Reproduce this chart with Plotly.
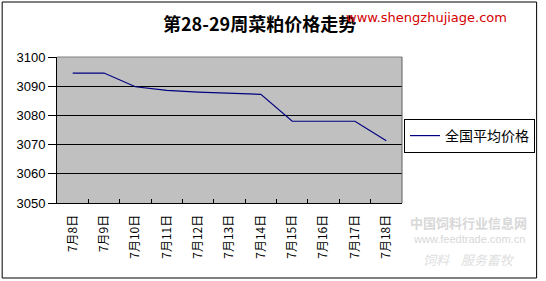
import plotly.graph_objects as go

categories = ["7月8日", "7月9日", "7月10日", "7月11日", "7月12日", "7月13日",
              "7月14日", "7月15日", "7月16日", "7月17日", "7月18日"]
prices = [3094.5, 3094.5, 3089.8, 3088.6, 3088.0, 3087.6, 3087.2, 3078.0, 3078.0, 3078.0, 3071.3]
series_name = "全国平均价格"
title_text = "第28-29周菜粕价格走势"
y_ticks = [3050, 3060, 3070, 3080, 3090, 3100]

W, H = 546, 281
L, R, T, B = 57, 403, 57, 203
pw, ph = R - L, B - T

def px_x(x):
    return (x - L) / pw

def px_y(y):
    return (B - y) / ph

font_main = "Liberation Sans, Arial, Noto Sans CJK SC, sans-serif"
cjk = "Noto Sans CJK SC, Liberation Sans, sans-serif"

fig = go.Figure()
fig.add_trace(go.Scatter(
    x=categories, y=prices, mode="lines", name=series_name,
    line=dict(color="#000080", width=1.2),
))

fig.update_layout(
    width=W, height=H,
    margin=dict(l=L, r=W - R, t=T, b=H - B, pad=0),
    paper_bgcolor="white",
    plot_bgcolor="#C0C0C0",
    showlegend=True,
    legend=dict(
        x=px_x(404), y=px_y(119), xanchor="left", yanchor="top",
        bordercolor="black", borderwidth=1, bgcolor="white",
        font=dict(family=cjk, size=14, color="black"),
        itemwidth=30, tracegroupgap=0,
    ),
    font=dict(family=font_main, size=13, color="black"),
)

fig.update_xaxes(
    type="category", range=[-0.5, len(categories) - 0.5],
    showline=True, linecolor="black", linewidth=1,
    ticks="inside", tickson="boundaries", ticklen=4, tickcolor="black",
    tickangle=-90, showgrid=False, ticklabelstandoff=6,
    tickfont=dict(family=cjk, size=12, color="black"),
)
fig.update_yaxes(
    range=[3050, 3100], tickvals=y_ticks,
    showline=True, linecolor="black", linewidth=1,
    ticks="outside", ticklen=8, tickcolor="black",
    showgrid=True, gridcolor="black", gridwidth=1,
    tickfont=dict(family=font_main, size=13, color="black"),
    zeroline=False,
)

# plot-area top/right border (gray)
fig.add_shape(type="line", xref="paper", yref="paper", x0=0, x1=1, y0=1, y1=1,
              line=dict(color="#808080", width=1), layer="above")
fig.add_shape(type="line", xref="paper", yref="paper", x0=1, x1=1, y0=0, y1=1,
              line=dict(color="#606060", width=1), layer="above")
# outer border
fig.add_shape(type="rect", xref="paper", yref="paper",
              x0=px_x(2), x1=px_x(538), y0=px_y(278), y1=px_y(2),
              line=dict(color="black", width=1), layer="below")

# title
fig.add_annotation(text="<b>" + title_text + "</b>", xref="paper", yref="paper",
                   x=px_x(260), y=px_y(23), xanchor="center", yanchor="middle",
                   showarrow=False, font=dict(family=cjk, size=18, color="black"))
# red watermark
fig.add_annotation(text="www.shengzhujiage.com", xref="paper", yref="paper",
                   x=px_x(345), y=px_y(17), xanchor="left", yanchor="middle",
                   showarrow=False, font=dict(family="DejaVu Sans", size=13, color="#D40000"))
# faint feedtrade watermark
fig.add_annotation(text="<b>中国饲料行业信息网</b>", xref="paper", yref="paper",
                   x=px_x(470), y=px_y(222), xanchor="center", yanchor="middle",
                   showarrow=False, font=dict(family=cjk, size=13, color="#D8D8D8"))
fig.add_annotation(text="www.feedtrade.com.cn", xref="paper", yref="paper",
                   x=px_x(470), y=px_y(239), xanchor="center", yanchor="middle",
                   showarrow=False, font=dict(family=font_main, size=11, color="#D8D8D8"))
fig.add_annotation(text="<i>饲料    服务畜牧</i>", xref="paper", yref="paper",
                   x=px_x(470), y=px_y(259), xanchor="center", yanchor="middle",
                   showarrow=False, font=dict(family=cjk, size=13, color="#E0E0E0"))

fig.write_html("out.html")
